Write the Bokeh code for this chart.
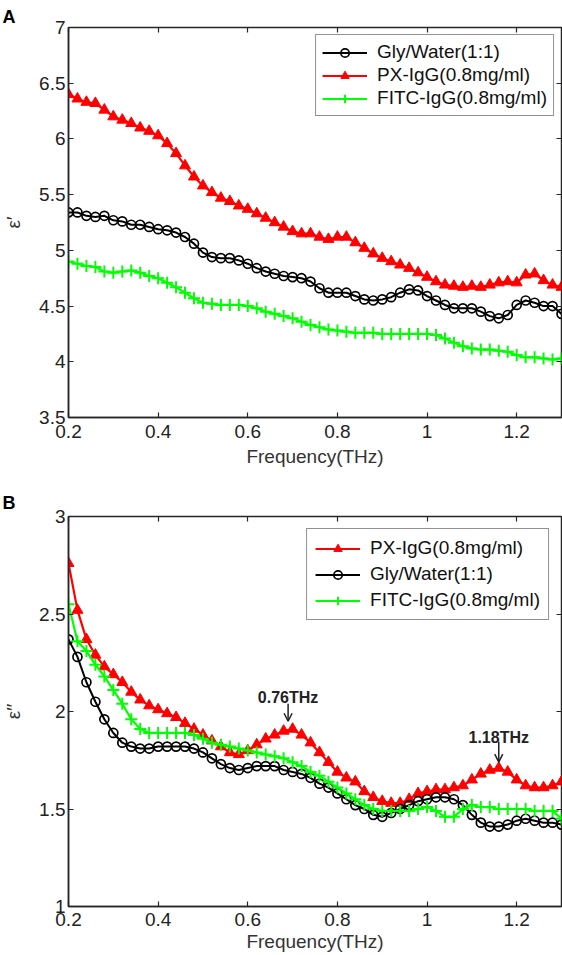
from bokeh.plotting import figure
from bokeh.layouts import column
from bokeh.models import (Range1d, FixedTicker, NumeralTickFormatter, LinearAxis,
                          CustomJSTickFormatter, Label, Arrow, OpenHead)
from bokeh.embed import file_html
from bokeh.resources import INLINE

# ---------------- data ----------------
freq = [round(0.20 + 0.02 * i, 2) for i in range(56)]  # THz

# Panel A: real part eps'
a_gly = [5.34, 5.34, 5.31, 5.30, 5.31, 5.27, 5.26, 5.23, 5.23, 5.21,
         5.19, 5.18, 5.16, 5.12, 5.06, 4.98, 4.94, 4.93, 4.93, 4.91,
         4.88, 4.84, 4.81, 4.79, 4.77, 4.76, 4.75, 4.72, 4.66, 4.62,
         4.62, 4.62, 4.59, 4.56, 4.55, 4.56, 4.58, 4.62, 4.65, 4.64,
         4.59, 4.55, 4.51, 4.48, 4.48, 4.48, 4.45, 4.41, 4.39, 4.42,
         4.51, 4.55, 4.53, 4.50, 4.50, 4.43]
a_px = [6.40, 6.36, 6.33, 6.32, 6.26, 6.20, 6.17, 6.14, 6.10, 6.07,
        6.03, 5.96, 5.87, 5.76, 5.66, 5.58, 5.52, 5.47, 5.44, 5.40,
        5.37, 5.33, 5.29, 5.25, 5.21, 5.17, 5.15, 5.15, 5.12, 5.10,
        5.12, 5.12, 5.07, 5.02, 4.97, 4.93, 4.90, 4.87, 4.84, 4.80,
        4.76, 4.72, 4.69, 4.68, 4.67, 4.68, 4.67, 4.69, 4.71, 4.72,
        4.71, 4.78, 4.79, 4.73, 4.69, 4.67]
a_fitc = [4.90, 4.88, 4.86, 4.85, 4.81, 4.80, 4.81, 4.82, 4.80, 4.77,
          4.75, 4.71, 4.67, 4.62, 4.57, 4.53, 4.52, 4.51, 4.51, 4.51,
          4.50, 4.48, 4.45, 4.43, 4.41, 4.39, 4.36, 4.33, 4.31, 4.29,
          4.28, 4.27, 4.26, 4.26, 4.26, 4.25, 4.25, 4.25, 4.25, 4.25,
          4.25, 4.24, 4.21, 4.17, 4.14, 4.12, 4.11, 4.11, 4.10, 4.09,
          4.06, 4.04, 4.04, 4.03, 4.02, 4.03]

# Panel B: imaginary part eps''
b_px = [2.76, 2.52, 2.37, 2.29, 2.23, 2.19, 2.15, 2.10, 2.06, 2.03,
        2.01, 1.99, 1.97, 1.94, 1.91, 1.88, 1.85, 1.82, 1.79, 1.78,
        1.80, 1.83, 1.86, 1.88, 1.90, 1.91, 1.88, 1.84, 1.79, 1.74,
        1.69, 1.66, 1.64, 1.59, 1.56, 1.54, 1.53, 1.53, 1.55, 1.58,
        1.59, 1.60, 1.60, 1.61, 1.62, 1.65, 1.68, 1.70, 1.71, 1.69,
        1.65, 1.62, 1.61, 1.61, 1.62, 1.64]
b_gly = [2.37, 2.28, 2.15, 2.05, 1.96, 1.89, 1.84, 1.82, 1.81, 1.81,
         1.82, 1.82, 1.82, 1.82, 1.81, 1.79, 1.76, 1.73, 1.71, 1.70,
         1.71, 1.72, 1.72, 1.72, 1.70, 1.69, 1.68, 1.66, 1.63, 1.61,
         1.58, 1.55, 1.52, 1.50, 1.47, 1.46, 1.48, 1.50, 1.52, 1.54,
         1.55, 1.56, 1.56, 1.55, 1.52, 1.47, 1.43, 1.41, 1.41, 1.42,
         1.44, 1.45, 1.44, 1.43, 1.43, 1.42]
b_fitc = [2.55, 2.36, 2.31, 2.24, 2.18, 2.11, 2.04, 1.96, 1.91, 1.89,
          1.89, 1.89, 1.89, 1.89, 1.88, 1.86, 1.84, 1.83, 1.82, 1.81,
          1.80, 1.79, 1.78, 1.77, 1.76, 1.74, 1.72, 1.69, 1.67, 1.64,
          1.61, 1.58, 1.55, 1.52, 1.50, 1.49, 1.49, 1.49, 1.49, 1.50,
          1.51, 1.49, 1.46, 1.46, 1.50, 1.52, 1.51, 1.51, 1.50, 1.50,
          1.50, 1.50, 1.49, 1.49, 1.49, 1.45]

for s in (a_gly, a_px, a_fitc, b_px, b_gly, b_fitc):
    assert len(s) == len(freq)

x_ticks = [0.2, 0.4, 0.6, 0.8, 1.0, 1.2]
a_yticks = [3.5, 4, 4.5, 5, 5.5, 6, 6.5, 7]
b_yticks = [1, 1.5, 2, 2.5, 3]

lbl_gly = "Gly/Water(1:1)"
lbl_px = "PX-IgG(0.8mg/ml)"
lbl_fitc = "FITC-IgG(0.8mg/ml)"

# (x, text, text baseline y, arrow start y, arrow tip y)
peaks = [(0.69, "0.76THz", 2.07, 2.04, 1.95), (1.16, "1.18THz", 1.865, 1.845, 1.74)]

FONT = "Liberation Sans"
EDGE = "#262626"


def style(p, yticks, ylabel, xlabel_standoff, xtick_standoff, panel, title_standoff):
    p.outline_line_color = EDGE
    p.outline_line_width = 1.5
    p.xgrid.visible = False
    p.ygrid.visible = False
    p.background_fill_color = "white"
    p.border_fill_color = "white"

    p.title.text = panel
    p.title.align = "left"
    p.title.offset = -66
    p.title.standoff = title_standoff
    p.title.text_font = FONT
    p.title.text_font_size = "18px"
    p.title.text_font_style = "bold"
    p.title.text_color = "black"

    xa = p.xaxis[0]
    xa.ticker = FixedTicker(ticks=x_ticks)
    xa.formatter = NumeralTickFormatter(format="0.[0]")
    xa.axis_label = "Frequency(THz)"
    xa.axis_label_standoff = xlabel_standoff
    xa.major_label_standoff = xtick_standoff
    ya = p.yaxis[0]
    ya.ticker = FixedTicker(ticks=yticks)
    ya.formatter = NumeralTickFormatter(format="0.[0]")
    ya.axis_label = ylabel
    ya.axis_label_standoff = 12
    ya.major_label_standoff = 3

    for ax in (xa, ya):
        ax.axis_line_color = EDGE
        ax.axis_line_width = 1.5
        ax.major_tick_in = 5
        ax.major_tick_out = 0
        ax.major_tick_line_color = EDGE
        ax.major_tick_line_width = 1.2
        ax.minor_tick_line_color = None
        ax.major_label_text_font = FONT
        ax.major_label_text_font_size = "19px"
        ax.major_label_text_color = "#222222"
        ax.axis_label_text_font = FONT
        ax.axis_label_text_font_size = "19px"
        ax.axis_label_text_font_style = "normal"
        ax.axis_label_text_color = "#333333"

    blank = CustomJSTickFormatter(code="return ''")
    top = LinearAxis(ticker=FixedTicker(ticks=x_ticks), formatter=blank)
    right = LinearAxis(ticker=FixedTicker(ticks=yticks), formatter=blank)
    for ax in (top, right):
        ax.axis_line_color = None
        ax.major_tick_in = 5
        ax.major_tick_out = 0
        ax.major_tick_line_color = EDGE
        ax.major_tick_line_width = 1.2
        ax.minor_tick_line_color = None
        ax.major_label_standoff = 0
        ax.major_label_text_font_size = "0px"
    p.add_layout(top, "above")
    p.add_layout(right, "right")


def add_series(p, ys, label, kind):
    if kind == "gly":
        p.line(freq, ys, line_color="black", line_width=2, legend_label=label)
        p.scatter(freq, ys, marker="circle", size=9, fill_color=None,
                  line_color="black", line_width=1.7, legend_label=label)
    elif kind == "px":
        p.line(freq, ys, line_color="#ff0000", line_width=2.2, legend_label=label)
        p.scatter(freq, ys, marker="triangle", size=11, fill_color="#ff0000",
                  line_color="#ff0000", line_width=1, legend_label=label)
    else:
        p.line(freq, ys, line_color="#00ff00", line_width=2.2, legend_label=label)
        p.scatter(freq, ys, marker="cross", size=12, line_color="#00ff00",
                  line_width=2, legend_label=label)


def style_legend(p, margin, padding, spacing):
    lg = p.legend[0]
    lg.location = "top_right"
    lg.margin = margin
    lg.border_line_color = EDGE
    lg.border_line_width = 1.5
    lg.background_fill_color = "white"
    lg.background_fill_alpha = 1
    lg.label_text_font = FONT
    lg.label_text_font_size = "19px"
    lg.label_text_color = "#111111"
    lg.glyph_width = 45
    lg.glyph_height = 21
    lg.label_height = 21
    lg.label_standoff = 10
    lg.padding = padding
    lg.spacing = spacing


# ---------------- panel A ----------------
pa = figure(width=562, height=480, output_backend="svg", toolbar_location=None,
            x_range=Range1d(0.2, 1.3), y_range=Range1d(3.5, 7),
            min_border_left=67, min_border_right=1, min_border_top=27, min_border_bottom=63)
add_series(pa, a_gly, lbl_gly, "gly")
add_series(pa, a_px, lbl_px, "px")
add_series(pa, a_fitc, lbl_fitc, "fitc")
style(pa, a_yticks, "ε′", 5, 7, "A", 2)
style_legend(pa, 7, 6, 1)

# ---------------- panel B ----------------
pb = figure(width=562, height=474, output_backend="svg", toolbar_location=None,
            x_range=Range1d(0.2, 1.3), y_range=Range1d(1, 3),
            min_border_left=67, min_border_right=1, min_border_top=36, min_border_bottom=47)
add_series(pb, b_px, lbl_px, "px")
add_series(pb, b_gly, lbl_gly, "gly")
add_series(pb, b_fitc, lbl_fitc, "fitc")
style(pb, b_yticks, "ε′′", 2, 6, "B", 8)
style_legend(pb, 12, 8, 4)
for xp, txt, ytxt, y0, y1 in peaks:
    pb.add_layout(Label(x=xp, y=ytxt, text=txt, text_font=FONT, text_font_size="16px",
                        text_font_style="bold", text_align="center",
                        text_baseline="alphabetic", text_color="#222222"))
    pb.add_layout(Arrow(x_start=xp, y_start=y0, x_end=xp, y_end=y1, line_width=1.5,
                        line_color="#222222",
                        end=OpenHead(size=8, line_width=1.5, line_color="#222222")))

layout = column(pa, pb)
open("out.html", "w").write(file_html(layout, INLINE))
